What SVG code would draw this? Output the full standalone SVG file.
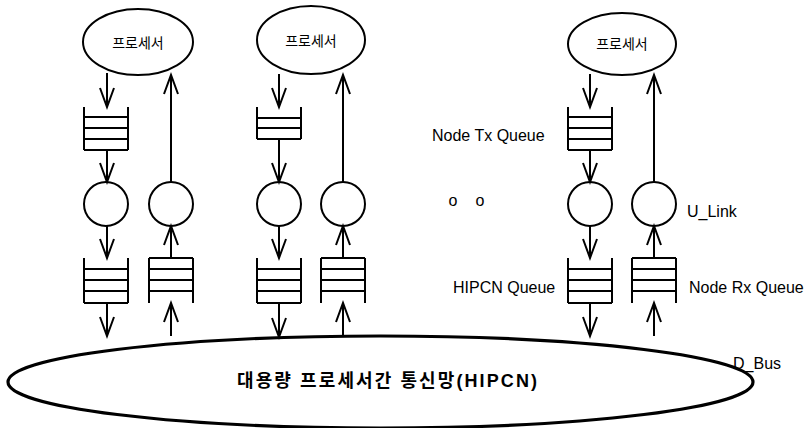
<svg xmlns="http://www.w3.org/2000/svg" width="804" height="428" viewBox="0 0 804 428">
  <style>
    .ln { fill: none; stroke: #000; stroke-width: 2; }
    .q { fill: none; stroke: #000; stroke-width: 2; }
    .lbl { font-family: "Liberation Sans", Arial, sans-serif; font-size: 16px; fill: #000; }
    .kr { font-family: "Noto Sans CJK KR", sans-serif; font-size: 14px; fill: #000; }
    .conn { fill: none; stroke: #000; stroke-width: 2; marker-end: url(#ah); }
  </style>
  <defs>
    <marker id="ah" viewBox="-21 -9 23 18" refX="0" refY="0" markerWidth="23" markerHeight="18" markerUnits="userSpaceOnUse" orient="auto" overflow="visible">
      <path d="M-19,-7 L0,0 L-19,7" fill="none" stroke="#000" stroke-width="2"/>
    </marker>
  </defs>
  <rect width="804" height="428" fill="#fff"/>

  <!-- processors -->
  <g id="proc1">
    <ellipse class="ln" cx="138" cy="42" rx="55" ry="33"/>
    <text class="kr" x="138" y="48" text-anchor="middle">프로세서</text>
  </g>
  <g id="proc2">
    <ellipse class="ln" cx="311" cy="40" rx="54" ry="34"/>
    <text class="kr" x="311" y="46" text-anchor="middle">프로세서</text>
  </g>
  <g id="proc3">
    <ellipse class="ln" cx="622" cy="44" rx="54" ry="31"/>
    <text class="kr" x="622" y="49" text-anchor="middle">프로세서</text>
  </g>

  <!-- node tx queues -->
  <g id="txq1"><path class="q" d="M84,107 V150 M128,107 V150 M84,117 H128 M84,128 H128 M84,139 H128 M84,150 H128"/></g>
  <g id="txq2"><path class="q" d="M257,107 V139 M301,107 V139 M257,118 H301 M257,128 H301 M257,139 H301"/></g>
  <g id="txq3"><path class="q" d="M568,107 V150 M612,107 V150 M568,117 H612 M568,128 H612 M568,139 H612 M568,150 H612"/></g>

  <!-- U_Link circles -->
  <g id="utx1"><circle class="ln" cx="106" cy="204" r="22"/></g>
  <g id="urx1"><circle class="ln" cx="171" cy="204" r="22"/></g>
  <g id="utx2"><circle class="ln" cx="279" cy="204" r="22"/></g>
  <g id="urx2"><circle class="ln" cx="343" cy="204" r="22"/></g>
  <g id="utx3"><circle class="ln" cx="590" cy="204" r="22"/></g>
  <g id="urx3"><circle class="ln" cx="654" cy="204" r="22"/></g>

  <!-- HIPCN queues -->
  <g id="hq1"><path class="q" d="M84,258 V303 M128,258 V303 M84,269 H128 M84,280 H128 M84,291 H128 M84,303 H128"/></g>
  <g id="hq2"><path class="q" d="M257,258 V303 M301,258 V303 M257,269 H301 M257,280 H301 M257,291 H301 M257,303 H301"/></g>
  <g id="hq3"><path class="q" d="M568,258 V303 M612,258 V303 M568,269 H612 M568,280 H612 M568,291 H612 M568,303 H612"/></g>

  <!-- node rx queues -->
  <g id="rxq1"><path class="q" d="M149,258 V303 M193,258 V303 M149,258 H193 M149,269 H193 M149,280 H193 M149,291 H193"/></g>
  <g id="rxq2"><path class="q" d="M321,258 V303 M365,258 V303 M321,258 H365 M321,269 H365 M321,280 H365 M321,291 H365"/></g>
  <g id="rxq3"><path class="q" d="M632,258 V303 M676,258 V303 M632,258 H676 M632,269 H676 M632,280 H676 M632,291 H676"/></g>

  <!-- HIPCN bus -->
  <g id="hipcn">
    <ellipse cx="380.5" cy="382" rx="372.5" ry="46" fill="none" stroke="#000" stroke-width="3.2"/>
    <text x="237" y="387" textLength="300" lengthAdjust="spacing" style="font-family: 'Liberation Sans', 'Noto Sans CJK KR', sans-serif; font-size: 18px; font-weight: bold;">대용량 프로세서간 통신망(HIPCN)</text>
  </g>

  <!-- labels -->
  <g id="labels">
    <text class="lbl" x="432" y="141">Node Tx Queue</text>
    <text class="lbl" x="453" y="206" text-anchor="middle" font-size="14">o</text>
    <text class="lbl" x="480" y="206" text-anchor="middle" font-size="14">o</text>
    <text class="lbl" x="687" y="217">U_Link</text>
    <text class="lbl" x="453" y="293">HIPCN Queue</text>
    <text class="lbl" x="689" y="293">Node Rx Queue</text>
    <text class="lbl" x="733" y="369">D_Bus</text>
  </g>

  <!-- connectors -->
  <g id="connectors">
    <line class="conn" x1="107" y1="73" x2="107" y2="107"/>
    <line class="conn" x1="107" y1="150" x2="107" y2="182"/>
    <line class="conn" x1="107" y1="226" x2="107" y2="258"/>
    <line class="conn" x1="107" y1="303" x2="107" y2="336"/>
    <line class="conn" x1="171" y1="336" x2="171" y2="303"/>
    <line class="conn" x1="171" y1="258" x2="171" y2="226"/>
    <line class="conn" x1="171" y1="182" x2="171" y2="75"/>

    <line class="conn" x1="279" y1="74" x2="279" y2="107"/>
    <line class="conn" x1="279" y1="139" x2="279" y2="182"/>
    <line class="conn" x1="279" y1="226" x2="279" y2="258"/>
    <line class="conn" x1="279" y1="303" x2="279" y2="337"/>
    <line class="conn" x1="343" y1="337" x2="343" y2="303"/>
    <line class="conn" x1="343" y1="258" x2="343" y2="226"/>
    <line class="conn" x1="343" y1="182" x2="343" y2="75"/>

    <line class="conn" x1="590" y1="74" x2="590" y2="107"/>
    <line class="conn" x1="590" y1="150" x2="590" y2="182"/>
    <line class="conn" x1="590" y1="226" x2="590" y2="258"/>
    <line class="conn" x1="590" y1="303" x2="590" y2="336"/>
    <line class="conn" x1="654" y1="336" x2="654" y2="303"/>
    <line class="conn" x1="654" y1="258" x2="654" y2="226"/>
    <line class="conn" x1="654" y1="182" x2="654" y2="75"/>
  </g>
</svg>
